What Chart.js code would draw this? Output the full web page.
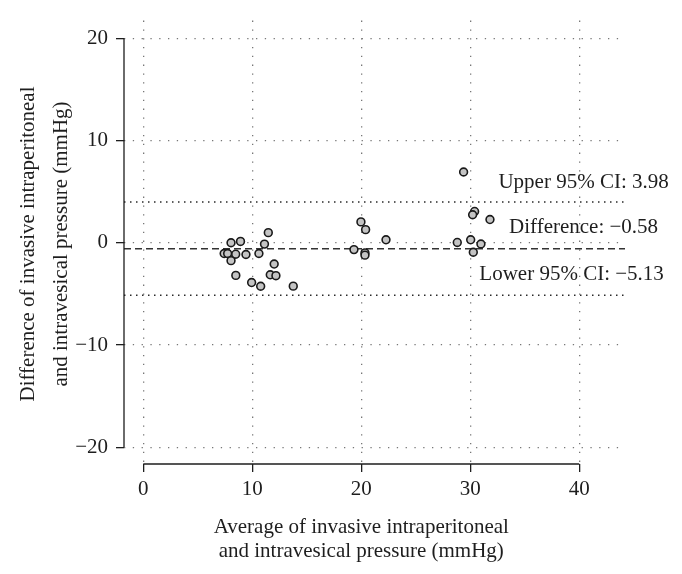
<!DOCTYPE html>
<html>
<head>
<meta charset="utf-8">
<script src="https://cdn.jsdelivr.net/npm/chart.js@4"></script>
<style>
html,body{margin:0;padding:0;background:#fff;}
#wrap{width:682px;height:574px;position:relative;}
</style>
</head>
<body>
<div id="wrap"><canvas id="c" width="682" height="574"></canvas></div>
<script>
// ---- data ----
const avgPressure = [11.47, 8.05, 8.92, 11.12, 7.42, 7.74, 8.48, 9.42, 10.61, 8.05, 12.01, 8.49, 11.65, 12.17, 9.94, 10.77, 13.76,
                     19.97, 20.40, 22.27, 19.33, 20.34, 20.34,
                     30.40, 30.22, 31.81, 28.81, 30.04, 30.98, 30.28, 29.39];
const diffPressure = [0.99, 0.00, 0.13, -0.13, -1.05, -1.05, -1.12, -1.15, -1.05, -1.75, -2.08, -3.19, -3.13, -3.22, -3.89, -4.25, -4.24,
                      2.04, 1.28, 0.29, -0.67, -0.99, -1.21,
                      3.06, 2.74, 2.27, 0.03, 0.29, -0.12, -0.93, 6.92];
const meanDiff = -0.58;
const upperCI = 3.98;
const lowerCI = -5.13;
const xTickValues = [0, 10, 20, 30, 40];
const yTickValues = [-20, -10, 0, 10, 20];
const xTitleLines = ["Average of invasive intraperitoneal", "and intravesical pressure (mmHg)"];
const yTitleLines = ["Difference of invasive intraperitoneal", "and intravesical pressure (mmHg)"];
const limitLabels = ["Upper 95% CI: 3.98", "Difference: \u22120.58", "Lower 95% CI: \u22125.13"];
const limitValues = [upperCI, meanDiff, lowerCI];
const labelX = [40.4, 40.4, 39.3];     // label centre along x (data units)
const labelLift = [1.95, 2.1, 2.05];   // label centre above its line (data units)

// ---- layout / style ----
const X_MIN = -1.77, X_MAX = 44.2, Y_MIN = -21.63, Y_MAX = 21.72;
const FONT = "'Liberation Serif', 'Times New Roman', serif";
const FS = 21;
const INK = '#1e1e1e';

const fmt = v => (v < 0 ? '\u2212' + Math.abs(v) : String(v));

const hLine = (y, dash, width, color) => ({
  type: 'line',
  data: [{x: X_MIN, y: y}, {x: X_MAX, y: y}],
  borderColor: color,
  borderWidth: width,
  borderDash: dash,
  pointRadius: 0,
  fill: false,
  order: 2
});

const rDecor = {
  id: 'rDecor',
  afterDraw(chart) {
    const ctx = chart.ctx, xs = chart.scales.x, ys = chart.scales.y, ca = chart.chartArea;
    ctx.save();
    ctx.strokeStyle = INK;
    ctx.lineWidth = 1.3;
    // axis lines from first to last tick (R style)
    ctx.beginPath();
    ctx.moveTo(xs.getPixelForValue(xTickValues[0]), ca.bottom);
    ctx.lineTo(xs.getPixelForValue(xTickValues[xTickValues.length - 1]), ca.bottom);
    ctx.moveTo(ca.left, ys.getPixelForValue(yTickValues[0]));
    ctx.lineTo(ca.left, ys.getPixelForValue(yTickValues[yTickValues.length - 1]));
    ctx.stroke();

    ctx.fillStyle = INK;
    ctx.font = FS + 'px ' + FONT;
    ctx.textAlign = 'center';
    // limit labels
    ctx.textBaseline = 'middle';
    limitLabels.forEach((t, i) => {
      ctx.fillText(t, xs.getPixelForValue(labelX[i]), ys.getPixelForValue(limitValues[i] + labelLift[i]));
    });
    // x title
    ctx.textBaseline = 'alphabetic';
    const xc = xs.getPixelForValue(20);
    ctx.fillText(xTitleLines[0], xc, 533);
    ctx.fillText(xTitleLines[1], xc, 557);
    // y title
    ctx.translate(0, 244);
    ctx.rotate(-Math.PI / 2);
    ctx.textBaseline = 'middle';
    ctx.fillText(yTitleLines[0], 0, 28);
    ctx.fillText(yTitleLines[1], 0, 61);
    ctx.restore();
  }
};

const gridCommon = {
  color: '#777777',
  lineWidth: 1.3,
  tickBorderDash: [],
  tickColor: INK,
  tickWidth: 1.3,
  tickLength: 8,
  drawTicks: true
};
const borderCommon = {display: false, dash: [1.3, 7.5], dashOffset: 0};

new Chart(document.getElementById('c'), {
  type: 'scatter',
  data: {
    datasets: [
      {
        data: avgPressure.map((x, i) => ({x: x, y: diffPressure[i]})),
        pointRadius: 3.9,
        pointBorderWidth: 1.6,
        backgroundColor: '#c4c4c4',
        borderColor: '#1a1a1a',
        showLine: false,
        order: 0
      },
      hLine(meanDiff, [7, 4], 1.6, '#333333'),
      hLine(upperCI, [1.5, 4.5], 1.5, '#2a2a2a'),
      hLine(lowerCI, [1.5, 4.5], 1.5, '#2a2a2a')
    ]
  },
  options: {
    responsive: false,
    devicePixelRatio: 1,
    animation: false,
    layout: {padding: {top: 11, right: 57, left: 0, bottom: 0}},
    plugins: {legend: {display: false}, tooltip: {enabled: false}},
    scales: {
      x: {
        type: 'linear', min: X_MIN, max: X_MAX,
        afterBuildTicks: s => { s.ticks = xTickValues.map(v => ({value: v})); },
        afterFit: s => { s.height = 110; },
        border: borderCommon,
        grid: gridCommon,
        ticks: {font: {family: FONT, size: FS}, color: INK, padding: 5, maxRotation: 0, autoSkip: false, callback: fmt}
      },
      y: {
        type: 'linear', min: Y_MIN, max: Y_MAX,
        afterBuildTicks: s => { s.ticks = yTickValues.map(v => ({value: v})); },
        afterFit: s => { s.width = 124; },
        border: borderCommon,
        grid: gridCommon,
        ticks: {font: {family: FONT, size: FS}, color: INK, padding: 8, autoSkip: false, callback: fmt}
      }
    }
  },
  plugins: [rDecor]
});
</script>
</body>
</html>
